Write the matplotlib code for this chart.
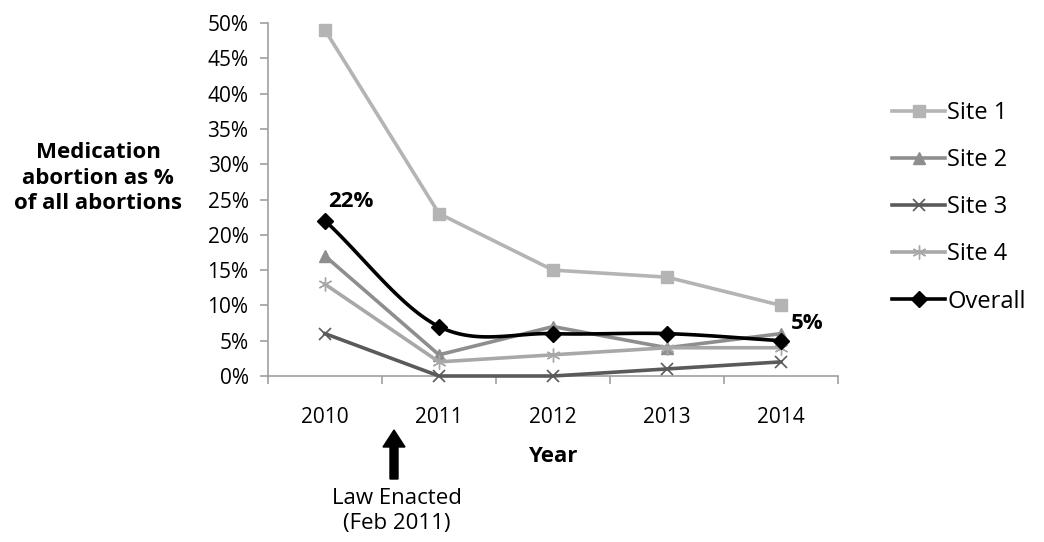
import numpy as np
import matplotlib
matplotlib.use("Agg")
import matplotlib.pyplot as plt
from matplotlib.lines import Line2D

plt.rcParams['font.family'] = ['Open Sans', 'DejaVu Sans']

years = ["2010", "2011", "2012", "2013", "2014"]
site1 = [0.49, 0.23, 0.15, 0.14, 0.10]
site2 = [0.17, 0.03, 0.07, 0.04, 0.06]
site3 = [0.06, 0.00, 0.00, 0.01, 0.02]
site4 = [0.13, 0.02, 0.03, 0.04, 0.04]
overall = [0.22, 0.07, 0.06, 0.06, 0.05]

fig = plt.figure(figsize=(10.44, 5.42), dpi=100)
ax = fig.add_axes([268/1044, 1-376/542, (838-268)/1044, (376-23)/542])
x = np.arange(len(years))

series = [
    ("Site 1", site1, "#b4b4b4", "s", 9, {}),
    ("Site 2", site2, "#8e8e8e", "^", 9, {}),
    ("Site 3", site3, "#5a5a5a", "x", 9, {"markeredgewidth": 1.2}),
    ("Site 4", site4, "#a8a8a8", (6, 2, 0), 10, {"markeredgewidth": 1.0}),
]
handles = []
for name, vals, col, mk, ms, kw in series:
    ax.plot(x, vals, color=col, lw=2.6, marker=mk, ms=ms, mfc=col, mec=col, zorder=3, clip_on=False, **kw)
    handles.append(Line2D([], [], color=col, lw=2.6, marker=mk, ms=ms, mfc=col, mec=col, **kw))

# Smoothed overall line (Catmull-Rom style through data points)
def catmull(xs, ys, n=30):
    px = np.concatenate([[2*xs[0]-xs[1]], xs, [2*xs[-1]-xs[-2]]])
    py = np.concatenate([[2*ys[0]-ys[1]], ys, [2*ys[-1]-ys[-2]]])
    outx, outy = [], []
    for i in range(1, len(px)-2):
        t = np.linspace(0, 1, n)
        for arr, out in ((px, outx), (py, outy)):
            p0, p1, p2, p3 = arr[i-1], arr[i], arr[i+1], arr[i+2]
            out.extend(0.5*((2*p1) + (-p0+p2)*t + (2*p0-5*p1+4*p2-p3)*t**2 + (-p0+3*p1-3*p2+p3)*t**3))
    return np.array(outx), np.array(outy)

sx, sy = catmull(x.astype(float), np.array(overall))
ax.plot(sx, sy, color="black", lw=2.6, zorder=4, clip_on=False)
ax.plot(x, overall, ls="none", marker="D", ms=8, color="black", zorder=5, clip_on=False)
handles.append(Line2D([], [], color="black", lw=2.6, marker="D", ms=8))

ax.set_xlim(-0.5, 4.5)
ax.set_ylim(0, 0.5)
ax.set_yticks(np.arange(0, 0.51, 0.05))
ax.set_yticklabels([f"{int(round(v*100))}%" for v in np.arange(0, 0.51, 0.05)], fontsize=15)
ax.set_xticks(x)
ax.set_xticklabels(years, fontsize=15)
ax.set_xticks(np.arange(-0.5, 4.6, 1), minor=True)
ax.tick_params(axis='x', which='major', length=0, pad=22)
ax.tick_params(axis='x', which='minor', length=6, color="#a0a0a0", width=1.2)
ax.tick_params(axis='y', length=6, color="#a0a0a0", width=1.2, pad=8)
for s in ("top", "right"):
    ax.spines[s].set_visible(False)
for s in ("left", "bottom"):
    ax.spines[s].set_color("#a0a0a0")
    ax.spines[s].set_linewidth(1.2)

ax.text(0.23, 0.247, "22%", fontsize=16, fontweight="bold", ha="center", va="center")
ax.text(4.23, 0.074, "5%", fontsize=16, fontweight="bold", ha="center", va="center")

fig.text(98/1044, 1-178/542, "Medication\nabortion as %\nof all abortions", fontsize=16,
         fontweight="bold", ha="center", va="center", linespacing=1.3)
fig.text(553/1044, 1-456/542, "Year", fontsize=16, fontweight="bold", ha="center", va="center")

fig.patches.append(matplotlib.patches.FancyArrow(394/1044, 1-479/542, 0, 49/542, width=8/1044,
                   head_width=22/1044, head_length=17/542, length_includes_head=True,
                   color="black", transform=fig.transFigure, figure=fig))
fig.text(397/1044, 1-511/542, "Law Enacted\n(Feb 2011)", fontsize=16, ha="center", va="center",
         linespacing=1.2)

leg = fig.legend(handles, ["Site 1", "Site 2", "Site 3", "Site 4", "Overall"],
                 loc="upper left", bbox_to_anchor=(892/1044, 1-101/542), frameon=False,
                 fontsize=17, handlelength=2.25, handletextpad=0.1, labelspacing=0.98,
                 borderpad=0, borderaxespad=0)

fig.savefig("out.png", dpi=100)
